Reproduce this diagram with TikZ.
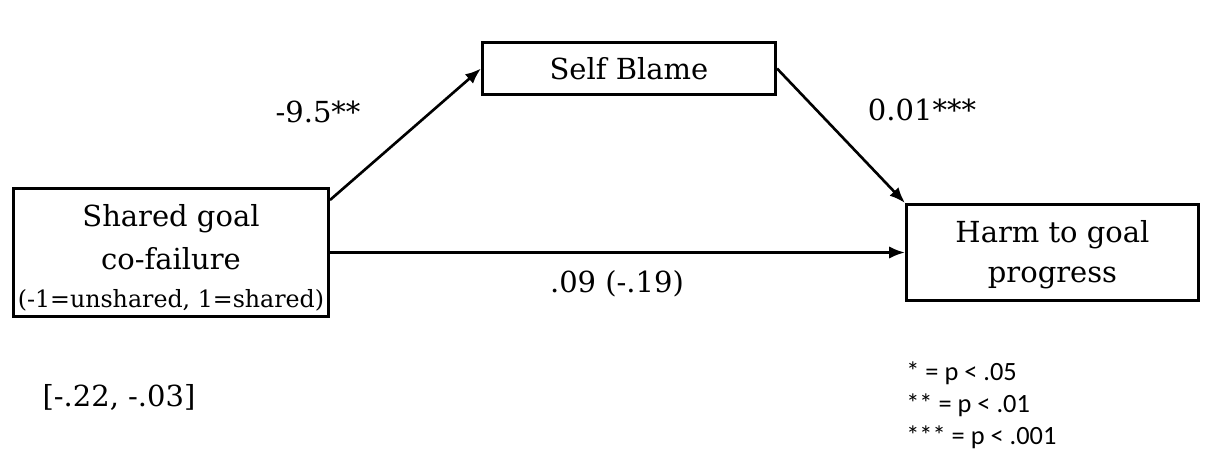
\documentclass[tikz,border=0pt]{standalone}
\usepackage{fontspec}
\setmainfont{DejaVu Serif}
\newfontfamily\legendfont{Carlito}
\usetikzlibrary{arrows.meta}

\tikzset{
  varbox/.style={draw, line width=1.7pt, align=center, inner sep=0pt},
  path/.style={line width=1.5pt, -{Latex[length=9pt,width=7pt]}},
  coef/.style={font=\fontsize{16.5}{19}\selectfont}
}

\begin{document}
\begin{tikzpicture}

\useasboundingbox (0,0) rectangle (24.44,-9.24);

\node[varbox, minimum width=5.86cm, minimum height=1.04cm, font=\fontsize{16.5}{19}\selectfont] (blame) at (12.58,-1.37) {Self Blame};

\node[varbox, minimum width=6.30cm, minimum height=2.56cm, font=\fontsize{16.5}{24.5}\selectfont] (shared) at (3.42,-5.05) {\rule{0pt}{18.5pt}Shared goal\\co-failure\\[-3pt]{\fontsize{13.5}{15}\selectfont (-1=unshared, 1=shared)}};

\node[varbox, minimum width=5.84cm, minimum height=1.92cm, font=\fontsize{16.5}{22.5}\selectfont] (harm) at (21.05,-5.05) {\rule{0pt}{15pt}Harm to goal\\progress};


\draw[path] ([yshift=-0.26cm]shared.north east) -- (blame.west);

\draw[path] (blame.east) -- (harm.north west);

\draw[path] (shared.east) -- (harm.west);


\node[coef] (a) at (6.36,-2.24) {-9.5**};

\node[coef] (b) at (18.44,-2.2) {0.01***};

\node[coef] (c) at (12.34,-5.68) {.09 (-.19)};

\node[coef] (ci) at (2.38,-7.94) {[-.22, -.03]};

\node[anchor=west, align=left, inner sep=0pt, font=\legendfont\fontsize{15}{18.2}\selectfont] (legend) at (18.12,-8.1) {* = p < .05\\** = p < .01\\*** = p < .001};

\end{tikzpicture}
\end{document}
